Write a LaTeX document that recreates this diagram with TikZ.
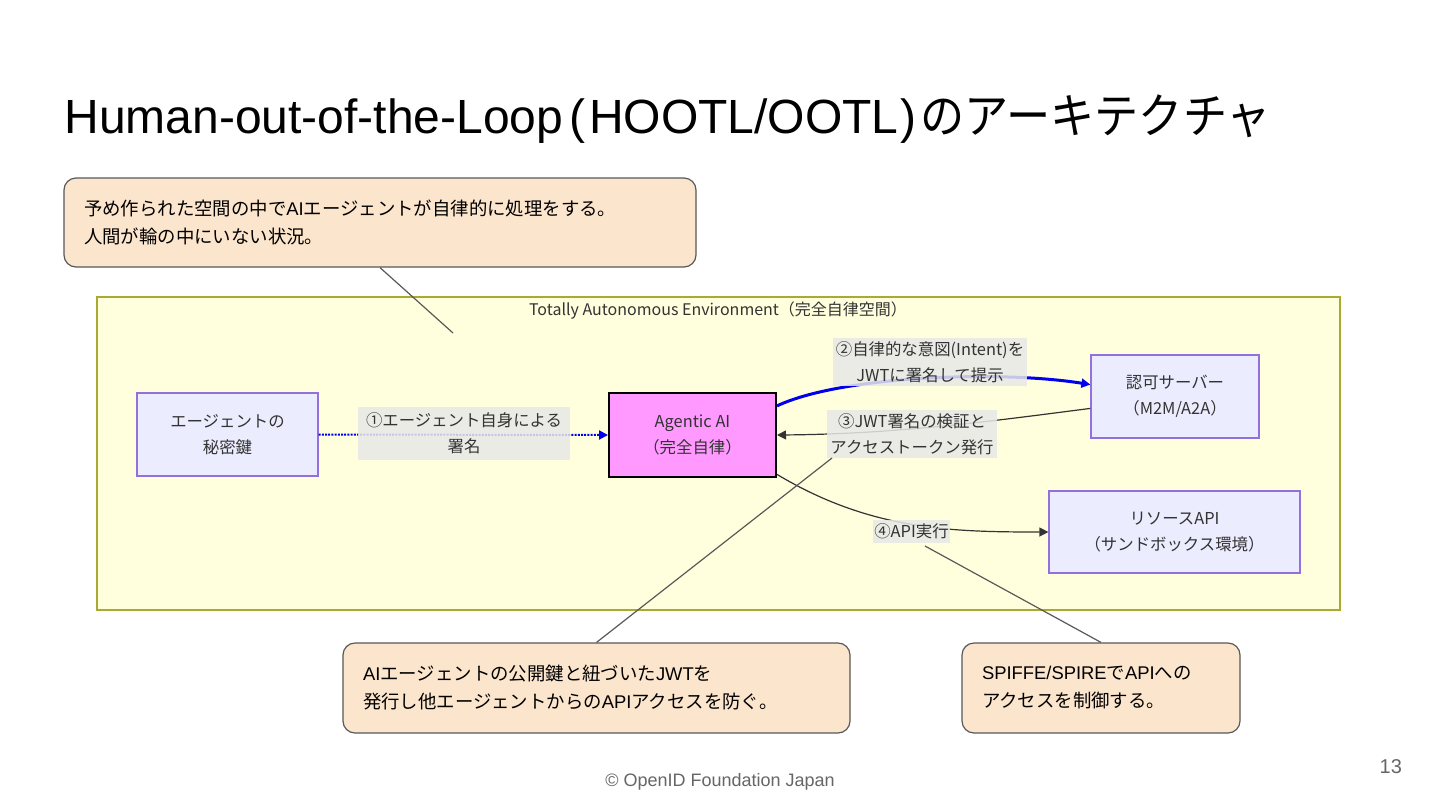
\documentclass[tikz,border=0pt]{standalone}
\usepackage{fontspec}
\setmainfont{Liberation Sans}
\newfontfamily\jp{Noto Sans CJK JP}
\usetikzlibrary{arrows.meta}
\definecolor{noteFill}{HTML}{FCE5CD}
\definecolor{noteLine}{HTML}{595959}
\definecolor{envFill}{HTML}{FFFFDE}
\definecolor{envLine}{HTML}{AAAA33}
\definecolor{boxFill}{HTML}{ECECFF}
\definecolor{boxLine}{HTML}{9370DB}
\definecolor{agentFill}{HTML}{FF99FF}
\definecolor{labelFill}{HTML}{E8E8E8}
\definecolor{flowBlue}{HTML}{0000EE}
\definecolor{flowGray}{HTML}{333333}
\definecolor{footGray}{HTML}{666666}

\tikzset{
  note/.style={draw=noteLine, line width=0.6pt, fill=noteFill, rounded corners=6pt,
    align=left, inner xsep=10pt, font=\fontsize{9.2}{14}\selectfont},
  box/.style={draw=boxLine, line width=0.6pt, fill=boxFill, align=center,
    text=flowGray, font=\jp\fontsize{8.2}{13}\selectfont},
  edgelabel/.style={fill=labelFill, fill opacity=0.85, text opacity=1, align=center,
    text=flowGray, inner sep=0pt, font=\jp\fontsize{8.2}{13}\selectfont},
  pointer/.style={draw=noteLine, line width=0.6pt},
  tip/.style={-{Triangle[length=4.5pt,width=4.5pt]}},
}

\begin{document}
\begin{tikzpicture}[x=0.5pt, y=-0.5pt]
    % page
    \fill[white] (0,0) rectangle (1440,810);
    \useasboundingbox (0,0) rectangle (1440,810);

    % draw title
    \node[anchor=base west, inner sep=0pt, font=\fontsize{24}{28}\selectfont] (title) at (64,133)
        {Human-out-of-the-Loop\hspace{3pt}(\hspace{2pt}HOOTL/OOTL\hspace{1pt})\hspace{2pt}\scalebox{0.92}[1]{\jp のアーキテクチャ}};

    % draw environment
    \draw[draw=envLine, fill=envFill, line width=0.6pt] (97,297) rectangle (1340,610);
    \node[text=flowGray, font=\jp\fontsize{8}{10}\selectfont] (envlabel) at (718,311)
        {Totally Autonomous Environment（完全自律空間）};

    % draw nodes
    \node[box, minimum width=90.5pt, minimum height=41.5pt] (key) at (227.5,434.5) {エージェントの\\秘密鍵};
    \node[box, draw=black, line width=1pt, fill=agentFill, minimum width=83.5pt, minimum height=42pt] (agent) at (692.5,435) {Agentic AI\\（完全自律）};
    \node[box, minimum width=84pt, minimum height=41.5pt] (auth) at (1175,396.5) {認可サーバー\\（M2M/A2A）};
    \node[box, minimum width=125.5pt, minimum height=41pt] (res) at (1174.5,532) {リソースAPI\\（サンドボックス環境）};

    % draw flows
    \draw[flowBlue, line width=1pt, dash pattern=on 1pt off 0.6pt, tip] (key.east) -- (agent.west);
    \draw[flowBlue, line width=1.5pt, tip] (agent.19) .. controls (840,376) and (1000,370) .. (auth.172);
    \draw[flowGray, line width=0.6pt, tip] (auth.188) .. controls (1000,420) and (900,434) .. (agent.east);
    \draw[flowGray, line width=0.6pt, tip] (agent.-25) .. controls (870,530) and (950,532) .. (res.west);

    % draw flow labels
    \node[edgelabel, minimum width=106pt, minimum height=26.5pt] (step1) at (464,433.5) {①エージェント自身による\\署名};
    \node[edgelabel, minimum width=97pt, minimum height=24pt] (step2) at (930,362) {②自律的な意図(Intent)を\\JWTに署名して提示};
    \node[edgelabel, minimum width=85pt, minimum height=24pt] (step3) at (912,434) {③JWT署名の検証と\\アクセストークン発行};
    \node[edgelabel, minimum width=38.5pt, minimum height=11.5pt] (step4) at (911.5,531.5) {④API実行};

    % draw notes
    \node[note, text width=296pt, minimum height=44.5pt] (note1) at (380,222.5)
        {{\jp 予め作られた空間の中で}AI{\jp エージェントが自律的に処理をする。}\\{\jp 人間が輪の中にいない状況。}};
    \node[note, text width=233.5pt, minimum height=45pt] (note2) at (596.5,688)
        {AI{\jp エージェントの公開鍵と紐づいた}JWT{\jp を}\\{\jp 発行し他エージェントからの}API{\jp アクセスを防ぐ。}};
    \node[note, text width=119pt, minimum height=45pt] (note3) at (1101,688)
        {SPIFFE/SPIRE{\jp で}API{\jp への}\\{\jp アクセスを制御する。}};

    % draw pointers
    \coordinate (hint1) at (453,333);
    \coordinate (hint2) at (832,458);
    \coordinate (hint3) at (925,546);
    \draw[pointer] (note1.south) -- (hint1);
    \draw[pointer] (note2.north) -- (hint2);
    \draw[pointer] (note3.north) -- (hint3);

    % draw footer
    \node[anchor=base, text=footGray, font=\fontsize{9}{11}\selectfont] (footer) at (720,786) {© OpenID Foundation Japan};
    \node[anchor=base east, text=footGray, font=\fontsize{10}{12}\selectfont] (page) at (1409,773) {13};
\end{tikzpicture}
\end{document}
